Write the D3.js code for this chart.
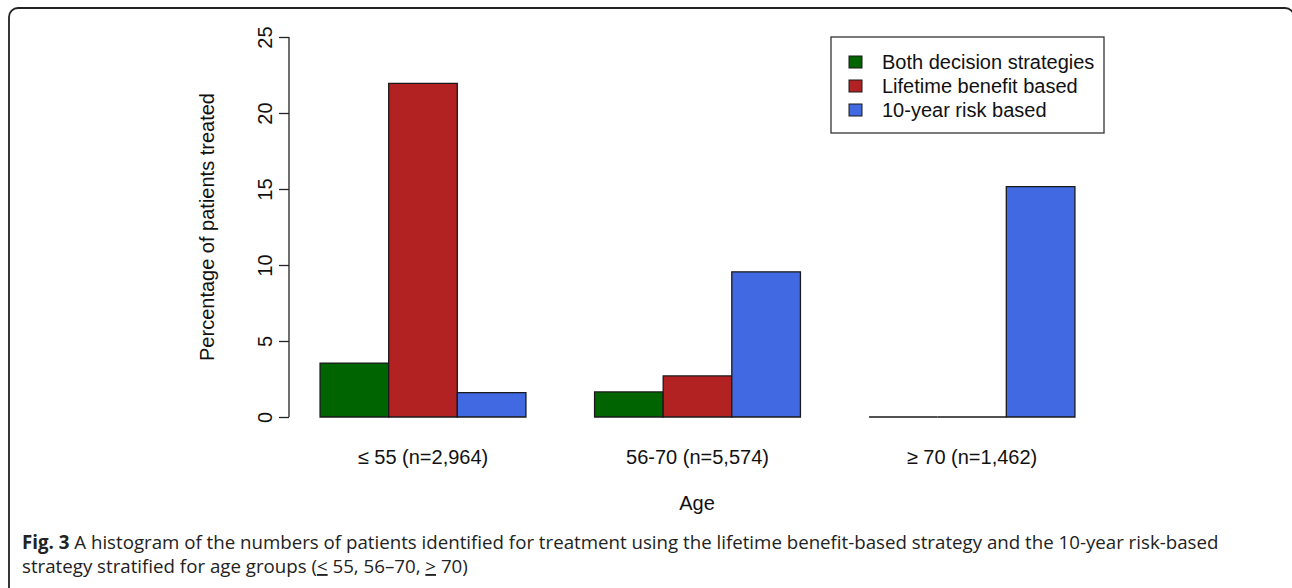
<!DOCTYPE html>
<html>
<head>
<meta charset="utf-8">
<script src="https://cdn.jsdelivr.net/npm/d3@7"></script>
<style>
  html, body { margin: 0; padding: 0; background: #fff; }
  svg { display: block; }
</style>
</head>
<body>
<svg id="chart" width="1292" height="588"></svg>
<script>
// Age groups on the x axis
const categories = ["≤ 55 (n=2,964)", "56-70 (n=5,574)", "≥ 70 (n=1,462)"];
// Treatment strategies (one bar per strategy in each group)
const seriesNames = ["Both decision strategies", "Lifetime benefit based", "10-year risk based"];
const seriesColors = ["#006400", "#B22222", "#4169E1"];
// Percentage of patients treated, per strategy, per age group
const bothValues = [3.55, 1.65, 0];
const lifetimeValues = [21.95, 2.7, 0];
const riskValues = [1.6, 9.55, 15.15];
const yTicks = [0, 5, 10, 15, 20, 25];

const svg = d3.select("#chart");
const font = "'Liberation Sans', Arial, Helvetica, sans-serif";
const fs = 20;

// Panel frame with rounded corners (right and bottom edges run past the page)
svg.append("rect")
  .attr("x", 9).attr("y", 8)
  .attr("width", 1285).attr("height", 600)
  .attr("rx", 9).attr("ry", 9)
  .attr("fill", "none")
  .attr("stroke", "#222").attr("stroke-width", 1.8);

const plot = { left: 320, right: 1075, top: 37, bottom: 417 };

const y = d3.scaleLinear().domain([0, 25]).range([plot.bottom, plot.top]);

// Each group is three unit-wide bars followed by a one-unit gap
const x0 = d3.scaleBand()
  .domain(categories)
  .range([plot.left - 68.5 / 2, plot.right + 68.5 / 2])
  .paddingInner(0.25)
  .paddingOuter(0.125);

const x1 = d3.scaleBand()
  .domain(seriesNames)
  .range([0, x0.bandwidth()])
  .padding(0);

const table = categories.map((c, i) => ({
  category: c,
  values: [bothValues[i], lifetimeValues[i], riskValues[i]]
}));

const groups = svg.append("g").selectAll("g")
  .data(table)
  .join("g")
  .attr("transform", d => `translate(${x0(d.category)},0)`);

// Bars are drawn as closed paths so that zero-height bars still show their outline
groups.selectAll("path")
  .data(d => d.values.map((v, j) => ({ name: seriesNames[j], value: v, color: seriesColors[j] })))
  .join("path")
  .attr("d", d => {
    const x = x1(d.name), w = x1.bandwidth();
    const top = y(d.value), base = y(0);
    return `M${x},${base}V${top}H${x + w}V${base}Z`;
  })
  .attr("fill", d => d.color)
  .attr("stroke", "#1a1a1a")
  .attr("stroke-width", 1.3);

// Y axis
const yAxis = d3.axisLeft(y).tickValues(yTicks).tickSize(10).tickPadding(6).tickSizeOuter(0);
const yg = svg.append("g")
  .attr("transform", `translate(${289},0)`)
  .call(yAxis);
yg.select(".domain").attr("stroke", "#222").attr("stroke-width", 1.3)
  .attr("d", `M0,${plot.bottom}V${plot.top}`);
yg.selectAll(".tick line").attr("stroke", "#222").attr("stroke-width", 1.3);
yg.selectAll(".tick text").remove();
yg.selectAll(".tick").append("text")
  .attr("transform", "translate(-24,0) rotate(-90)")
  .attr("text-anchor", "middle")
  .attr("dy", "0.35em")
  .attr("font-family", font)
  .attr("font-size", fs)
  .attr("fill", "#111")
  .text(d => d);

// Y axis title
svg.append("text")
  .attr("transform", `translate(214,${(plot.top + plot.bottom) / 2}) rotate(-90)`)
  .attr("text-anchor", "middle")
  .attr("font-family", font)
  .attr("font-size", fs)
  .attr("fill", "#111")
  .text("Percentage of patients treated");

// Category labels
svg.append("g").selectAll("text")
  .data(categories)
  .join("text")
  .attr("x", d => x0(d) + x0.bandwidth() / 2)
  .attr("y", 464)
  .attr("text-anchor", "middle")
  .attr("font-family", font)
  .attr("font-size", fs)
  .attr("fill", "#111")
  .text(d => d);

// X axis title
svg.append("text")
  .attr("x", 697).attr("y", 510)
  .attr("text-anchor", "middle")
  .attr("font-family", font)
  .attr("font-size", fs)
  .attr("fill", "#111")
  .text("Age");

// Legend
const legend = svg.append("g").attr("transform", "translate(831,37)");
legend.append("rect")
  .attr("width", 273).attr("height", 96)
  .attr("fill", "#fff")
  .attr("stroke", "#333").attr("stroke-width", 1.3);
const items = legend.selectAll("g.item")
  .data(seriesNames)
  .join("g")
  .attr("class", "item")
  .attr("transform", (d, i) => `translate(0,${25 + i * 24})`);
items.append("rect")
  .attr("x", 18).attr("y", -6)
  .attr("width", 13).attr("height", 12)
  .attr("fill", (d, i) => seriesColors[i])
  .attr("stroke", "#1a1a1a").attr("stroke-width", 1);
items.append("text")
  .attr("x", 51).attr("dy", "0.35em")
  .attr("font-family", font)
  .attr("font-size", fs)
  .attr("fill", "#111")
  .text(d => d);

// Figure caption
const capFont = "'Open Sans', 'Noto Sans', sans-serif";
const cap1 = svg.append("text")
  .attr("x", 22).attr("y", 549)
  .attr("font-family", capFont)
  .attr("font-size", 18.7)
  .attr("fill", "#222");
cap1.append("tspan").attr("font-weight", "bold").text("Fig. 3");
cap1.append("tspan").text(" A histogram of the numbers of patients identified for treatment using the lifetime benefit-based strategy and the 10-year risk-based");

const cap2 = svg.append("text")
  .attr("x", 22).attr("y", 573)
  .attr("font-family", capFont)
  .attr("font-size", 18.7)
  .attr("fill", "#222");
cap2.append("tspan").text("strategy stratified for age groups (");
cap2.append("tspan").attr("text-decoration", "underline").text("<");
cap2.append("tspan").text(" 55, 56–70, ");
cap2.append("tspan").attr("text-decoration", "underline").text(">");
cap2.append("tspan").text(" 70)");
</script>
</body>
</html>
